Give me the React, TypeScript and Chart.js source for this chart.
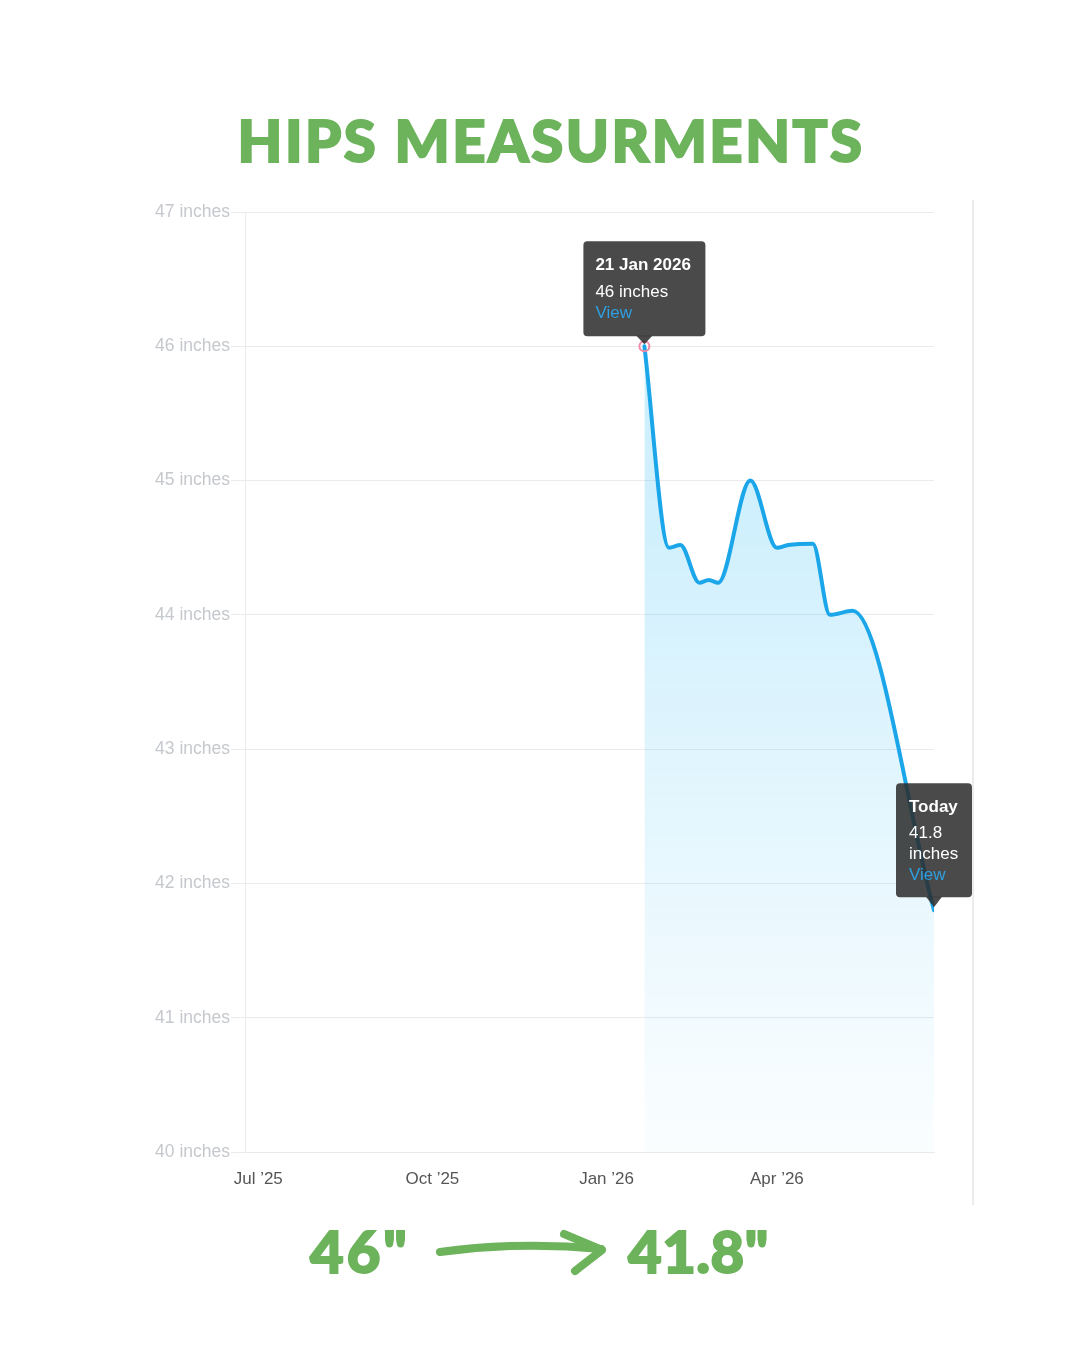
import React, { useEffect, useRef } from "react";
import { Chart, registerables } from "chart.js";

Chart.register(...registerables);

// ---- data ----
const measureDates = [
  "2026-01-21",
  "2026-02-03",
  "2026-02-09",
  "2026-02-19",
  "2026-02-24",
  "2026-03-01",
  "2026-03-18",
  "2026-04-01",
  "2026-04-07",
  "2026-04-20",
  "2026-04-29",
  "2026-05-11",
  "2026-06-23",
];
const hipsInches = [46.0, 44.5, 44.52, 44.24, 44.26, 44.24, 45.0, 44.5, 44.52, 44.53, 44.0, 44.03, 41.8];

const xTickDates = ["2025-07-01", "2025-10-01", "2026-01-01", "2026-04-01"];
const xTickLabels = ["Jul \u201925", "Oct \u201925", "Jan \u201926", "Apr \u201926"];
const xRangeDates = ["2025-06-24", "2026-06-23"];
const yMin = 40;
const yMax = 47;
const yUnit = "inches";

const firstCalloutLines = ["21 Jan 2026", "46 inches"];
const lastCalloutLines = ["Today", "41.8", "inches"];
const calloutLink = "View";

const titleText = "HIPS MEASURMENTS";
const startLabel = "46\"";
const endLabel = "41.8\"";

// ---- helpers ----
const EPOCH = Date.parse("2026-01-01T00:00:00Z");
const dayNum = (d: string) => Math.round((Date.parse(d + "T00:00:00Z") - EPOCH) / 86400000);

const GREEN = "#6cb35c";
const LINE_BLUE = "#1ba6ea";
const FONT = "'Liberation Sans', Arial, Helvetica, sans-serif";

const calloutPlugin = {
  id: "callouts",
  afterDatasetsDraw(chart: any) {
    const ctx: CanvasRenderingContext2D = chart.ctx;
    const xs = chart.scales.x;
    const ys = chart.scales.y;
    const first = { px: xs.getPixelForValue(dayNum(measureDates[0])), py: ys.getPixelForValue(hipsInches[0]) };
    const li = measureDates.length - 1;
    const last = { px: xs.getPixelForValue(dayNum(measureDates[li])), py: ys.getPixelForValue(hipsInches[li]) };

    const drawBox = (l: number, t: number, w: number, h: number, cx: number, cTop: number, cTip: number) => {
      ctx.save();
      ctx.fillStyle = "rgba(44,44,44,0.86)";
      ctx.beginPath();
      (ctx as any).roundRect(l, t, w, h, 4);
      ctx.fill();
      ctx.beginPath();
      ctx.moveTo(cx - 8, cTop);
      ctx.lineTo(cx + 8, cTop);
      ctx.lineTo(cx, cTip);
      ctx.closePath();
      ctx.fill();
      ctx.restore();
    };
    const text = (s: string, x: number, y: number, bold: boolean, color: string) => {
      ctx.save();
      ctx.font = `${bold ? "bold " : ""}17px ${FONT}`;
      ctx.fillStyle = color;
      ctx.textBaseline = "middle";
      ctx.textAlign = "left";
      ctx.fillText(s, x, y);
      ctx.restore();
    };

    // first callout
    {
      const { px, py } = first;
      drawBox(px - 61, py - 105, 122, 95, px, py - 10.5, py - 2);
      text(firstCalloutLines[0], px - 49, py - 81, true, "#ffffff");
      text(firstCalloutLines[1], px - 49, py - 54, false, "#ffffff");
      text(calloutLink, px - 49, py - 33, false, "#2e9fe0");
    }
    // last callout
    {
      const { px, py } = last;
      drawBox(px - 38, py - 127, 76, 114, px, py - 13.5, py - 3);
      text(lastCalloutLines[0], px - 25, py - 103, true, "#ffffff");
      text(lastCalloutLines[1], px - 25, py - 77, false, "#ffffff");
      text(lastCalloutLines[2], px - 25, py - 56, false, "#ffffff");
      text(calloutLink, px - 25, py - 35, false, "#2e9fe0");
    }
  },
};

export default function App() {
  const canvasRef = useRef<HTMLCanvasElement | null>(null);

  useEffect(() => {
    const canvas = canvasRef.current;
    if (!canvas) return;
    const points = measureDates.map((d, i) => ({ x: dayNum(d), y: hipsInches[i] }));
    const xTickValues = xTickDates.map(dayNum);

    const chart = new Chart(canvas, {
      type: "line",
      data: {
        datasets: [
          {
            data: points,
            borderColor: LINE_BLUE,
            borderWidth: 4,
            cubicInterpolationMode: "monotone",
            fill: "start",
            backgroundColor: (c: any) => {
              const area = c.chart.chartArea;
              if (!area) return "rgba(40,185,245,0.15)";
              const g = c.chart.ctx.createLinearGradient(0, area.top, 0, area.bottom);
              g.addColorStop(0, "rgba(40,185,245,0.26)");
              g.addColorStop(0.35, "rgba(40,185,245,0.21)");
              g.addColorStop(1, "rgba(40,185,245,0.02)");
              return g;
            },
            pointRadius: points.map((_, i) => (i === 0 ? 5 : 0)),
            pointBorderColor: "#ee8aa6",
            pointBackgroundColor: "rgba(255,255,255,0)",
            pointBorderWidth: 2,
            borderCapStyle: "round",
            borderJoinStyle: "round",
          },
        ],
      },
      options: {
        responsive: false,
        animation: false,
        devicePixelRatio: 1,
        layout: { padding: { left: 0, right: 146, top: 212, bottom: 0 } },
        plugins: { legend: { display: false }, tooltip: { enabled: false } },
        scales: {
          x: {
            type: "linear",
            min: dayNum(xRangeDates[0]),
            max: dayNum(xRangeDates[1]),
            grid: { display: false },
            border: { display: true, color: "#e9e9e9", width: 1 },
            afterBuildTicks: (s: any) => {
              s.ticks = xTickValues.map((v) => ({ value: v }));
            },
            ticks: {
              autoSkip: false,
              maxRotation: 0,
              color: "#555555",
              font: { family: FONT, size: 17 },
              padding: 9,
              callback: (v: any) => {
                const i = xTickValues.indexOf(Number(v));
                return i >= 0 ? xTickLabels[i] : "";
              },
            },
            afterFit: (s: any) => {
              s.height = 198;
            },
          },
          y: {
            min: yMin,
            max: yMax,
            grid: { color: "#ebebeb", lineWidth: 1, drawTicks: true, tickLength: 14, tickColor: "#ebebeb" },
            border: { display: true, color: "#ebebeb", width: 1 },
            ticks: {
              stepSize: 1,
              color: "#c5c8cc",
              font: { family: FONT, size: 17.5 },
              padding: 1,
              callback: (v: any) => `${v} ${yUnit}`,
            },
            afterFit: (s: any) => {
              s.width = 245;
            },
          },
        },
      },
      plugins: [calloutPlugin],
    } as any);
    return () => chart.destroy();
  }, []);

  const bigFont = "Lato, 'Open Sans', 'DejaVu Sans', sans-serif";
  const heavy: any = { WebkitTextStroke: `2px ${GREEN}` };

  return (
    <div style={{ position: "absolute", left: 0, top: 0, width: 1080, height: 1350, background: "#ffffff", overflow: "hidden" }}>
      <canvas ref={canvasRef} width={1080} height={1350} style={{ position: "absolute", left: 0, top: 0, width: 1080, height: 1350 }} />
      <div
        style={{
          position: "absolute",
          left: 0,
          top: 104,
          width: 1102,
          textAlign: "center",
          fontFamily: bigFont,
          fontWeight: 900,
          fontSize: 58,
          lineHeight: "72px",
          color: GREEN,
          letterSpacing: 2.5,
          ...heavy,
        }}
      >
        {titleText}
      </div>
      <div style={{ position: "absolute", left: 972, top: 200, width: 2, height: 1005, background: "#ececec" }} />
      <div
        style={{
          position: "absolute",
          left: 310,
          top: 1216,
          fontFamily: bigFont,
          fontWeight: 900,
          fontSize: 58,
          lineHeight: "70px",
          color: GREEN,
          letterSpacing: 3,
          ...heavy,
        }}
      >
        {startLabel}
      </div>
      <div
        style={{
          position: "absolute",
          left: 628,
          top: 1216,
          fontFamily: bigFont,
          fontWeight: 900,
          fontSize: 58,
          lineHeight: "70px",
          color: GREEN,
          letterSpacing: 0.5,
          ...heavy,
        }}
      >
        {endLabel}
      </div>
      <svg width={1080} height={1350} style={{ position: "absolute", left: 0, top: 0, pointerEvents: "none" }}>
        <path d="M 440 1252 Q 520 1241 601 1249" fill="none" stroke={GREEN} strokeWidth={8} strokeLinecap="round" />
        <path d="M 564 1234 L 602 1250 L 575 1271" fill="none" stroke={GREEN} strokeWidth={8} strokeLinecap="round" strokeLinejoin="round" />
      </svg>
    </div>
  );
}
